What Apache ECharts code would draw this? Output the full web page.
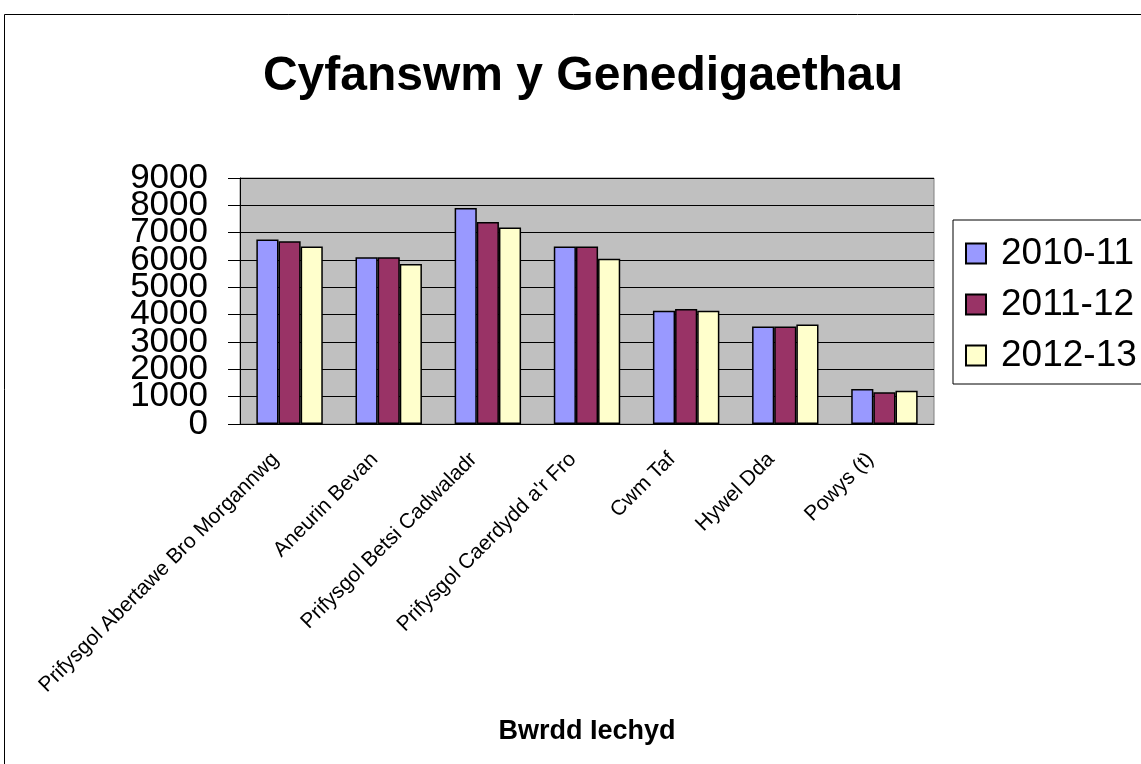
<!DOCTYPE html>
<html>
<head>
<meta charset="utf-8">
<script src="https://cdn.jsdelivr.net/npm/echarts@6/dist/echarts.min.js"></script>
<style>
  html, body { margin: 0; padding: 0; background: #fff; }
  #chart { width: 1141px; height: 764px; }
</style>
</head>
<body>
<div id="chart"></div>
<script>
var categories = ['Prifysgol Abertawe Bro Morgannwg', 'Aneurin Bevan', 'Prifysgol Betsi Cadwaladr',
  "Prifysgol Caerdydd a'r Fro", 'Cwm Taf', 'Hywel Dda', 'Powys (t)'];
var years = ['2010-11', '2011-12', '2012-13'];
var y2010 = [6750, 6100, 7900, 6490, 4140, 3570, 1280];
var y2011 = [6690, 6100, 7390, 6490, 4210, 3570, 1160];
var y2012 = [6490, 5850, 7190, 6050, 4140, 3640, 1220];
var yTicks = [0, 1000, 2000, 3000, 4000, 5000, 6000, 7000, 8000, 9000];

var colors = ['#9999ff', '#993366', '#ffffcc'];
var font = 'Liberation Sans, Arial, sans-serif';

var chart = echarts.init(document.getElementById('chart'));

function bar(name, data, i) {
  return {
    name: name,
    type: 'bar',
    data: data,
    barGap: '0%',
    barCategoryGap: '33%',
    itemStyle: { color: colors[i], borderColor: '#000', borderWidth: 1.5 }
  };
}

// the big tick labels overlap each other, so split them over two axes
// (even and odd ticks) to stop echarts hiding some of them
function yAxisFor(parity, main) {
  var step = yTicks[1] - yTicks[0];
  return {
    type: 'value',
    position: 'left',
    min: yTicks[0],
    max: yTicks[yTicks.length - 1],
    interval: step,
    axisLine: { show: main, lineStyle: { color: '#000', width: 1 } },
    axisTick: { show: main, length: 12, lineStyle: { color: '#000' } },
    axisLabel: {
      fontSize: 35, color: '#000', margin: 32,
      showMinLabel: true, showMaxLabel: true,
      formatter: function (v) {
        return yTicks.indexOf(v) % 2 === parity ? String(v) : '';
      }
    },
    splitLine: { show: main, lineStyle: { color: '#000', width: 1 } }
  };
}

var option = {
  animation: false,
  textStyle: { fontFamily: font },
  graphic: [{
    type: 'rect',
    z: -10,
    shape: { x: 4.5, y: 14.5, width: 1200, height: 800 },
    style: { fill: 'none', stroke: '#000', lineWidth: 1 }
  }],
  title: {
    text: 'Cyfanswm y Genedigaethau',
    left: 578,
    textAlign: 'center',
    top: 48,
    textStyle: { fontSize: 48, fontWeight: 'bold', color: '#000', fontFamily: font }
  },
  legend: {
    data: years,
    orient: 'vertical',
    left: 953,
    top: 220,
    padding: [15, 60, 10, 12],
    itemGap: 14,
    itemWidth: 20,
    itemHeight: 20,
    icon: 'rect',
    borderColor: '#000',
    borderWidth: 1,
    textStyle: { fontSize: 37, color: '#000', fontFamily: font, padding: [0, 0, 0, 10] }
  },
  grid: {
    left: 240,
    right: 207,
    top: 178,
    bottom: 340,
    show: true,
    backgroundColor: '#c0c0c0',
    borderColor: '#808080',
    borderWidth: 1
  },
  xAxis: {
    type: 'category',
    data: categories,
    name: 'Bwrdd Iechyd',
    nameLocation: 'middle',
    nameGap: 294,
    nameTextStyle: { fontSize: 27, fontWeight: 'bold', color: '#000', fontFamily: font },
    axisLine: { lineStyle: { color: '#000', width: 1 } },
    axisTick: { length: 8, lineStyle: { color: '#000' } },
    axisLabel: {
      rotate: 45, fontSize: 21, color: '#000', margin: 18, interval: 0,
      padding: [0, 20, 0, 0]
    }
  },
  yAxis: [yAxisFor(0, true), yAxisFor(1, false)],
  series: [
    bar(years[0], y2010, 0),
    bar(years[1], y2011, 1),
    bar(years[2], y2012, 2)
  ]
};

chart.setOption(option);
</script>
</body>
</html>
